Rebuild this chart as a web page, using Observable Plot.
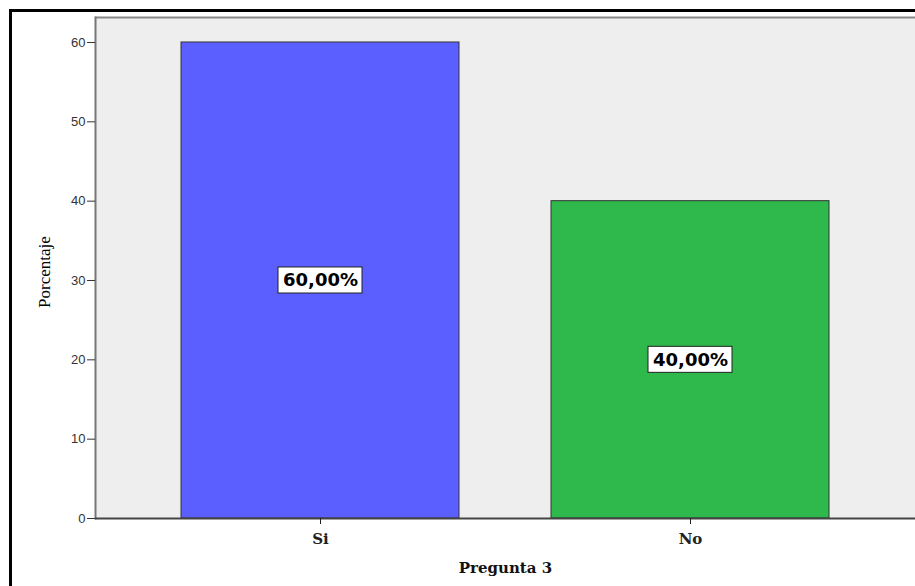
<!DOCTYPE html>
<html>
<head>
<meta charset="utf-8">
<script src="https://cdn.jsdelivr.net/npm/d3@7"></script>
<script src="https://cdn.jsdelivr.net/npm/@observablehq/plot@0.6"></script>
<style>
  html, body { margin: 0; padding: 0; background: #fff; }
  #wrap { position: relative; width: 915px; height: 586px; overflow: hidden; }
  #border { position: absolute; left: 9px; top: 9px; width: 920px; height: 600px;
            border-left: 3px solid #000; border-top: 3px solid #000; pointer-events: none; }
</style>
</head>
<body>
<div id="wrap"><div id="border"></div></div>
<script>
const categories = ["Si", "No"];
const values = [60, 40];
const labels = ["60,00%", "40,00%"];
const colors = ["#5b5fff", "#2fb84b"];
const yTicks = [0, 10, 20, 30, 40, 50, 60];
const yMax = 63.15;

const data = categories.map((c, i) => ({cat: c, value: values[i], label: labels[i], color: colors[i]}));

const serif = "'DejaVu Serif', 'Liberation Serif', serif";

const chart = Plot.plot({
  width: 915,
  height: 586,
  marginLeft: 95,
  marginRight: 0,
  marginTop: 17,
  marginBottom: 68,
  style: {background: "transparent", fontFamily: "'Liberation Sans', Arial, sans-serif"},
  x: {domain: categories, paddingInner: 0.25, paddingOuter: 0.233, label: null},
  y: {domain: [0, yMax], label: null},
  marks: [
    Plot.frame({fill: "#eeeeee", stroke: null}),
    Plot.ruleY([yMax], {stroke: "#888", strokeWidth: 2}),
    Plot.frame({anchor: "left", stroke: "#777", strokeWidth: 2}),
    Plot.barY(data, {x: "cat", y: "value", fill: "color", stroke: "#333", strokeWidth: 1}),
    Plot.barY(data, {x: "cat", y1: d => d.value / 2 - 1.64, y2: d => d.value / 2 + 1.64,
      fill: "white", stroke: "#222", strokeWidth: 1, insetLeft: 97, insetRight: 97}),
    Plot.text(data, {x: "cat", y: d => d.value / 2, text: "label", fill: "#000",
      fontSize: 18, fontWeight: "bold", fontFamily: "'DejaVu Sans', sans-serif"}),
    Plot.ruleY([0], {stroke: "#444", strokeWidth: 2}),
    Plot.axisY({ticks: yTicks, tickSize: 8, tickPadding: 2, fontSize: 13, color: "#333", label: null}),
    Plot.axisX({tickSize: 6, tickPadding: 9, fontSize: 15, fontWeight: "bold",
      fontFamily: serif, color: "#222", label: null}),
    Plot.text(["Pregunta 3"], {frameAnchor: "bottom", dy: 54, fontSize: 15, fontWeight: "bold",
      fontFamily: serif, fill: "#111"}),
    Plot.text(["Porcentaje"], {frameAnchor: "left", dx: -51, dy: 4, rotate: -90, textAnchor: "middle",
      fontSize: 17, fontFamily: "'Liberation Serif', 'Times New Roman', serif", fill: "#000"})
  ]
});
document.getElementById("wrap").insertBefore(chart, document.getElementById("border"));
</script>
</body>
</html>
